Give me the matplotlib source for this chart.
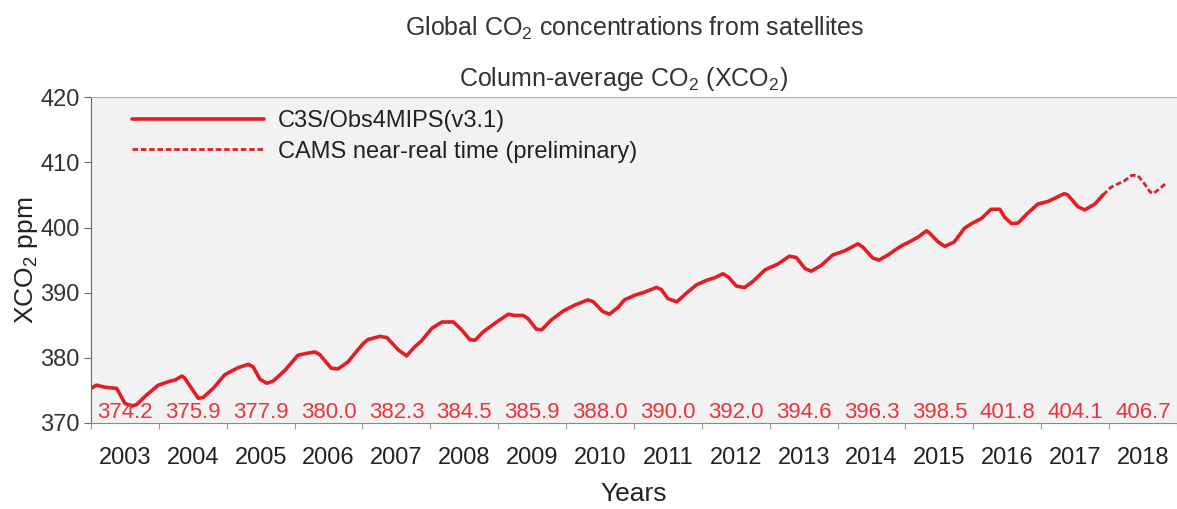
import matplotlib
matplotlib.use('Agg')
import matplotlib.pyplot as plt
from matplotlib.ticker import FixedLocator, NullFormatter, FixedFormatter

plt.rcParams['font.family'] = ['Liberation Sans', 'DejaVu Sans']
plt.rcParams['mathtext.fontset'] = 'custom'
plt.rcParams['mathtext.rm'] = 'Liberation Sans'

# C3S/Obs4MIPS monthly-ish points (decimal year, ppm)
t_sat = [2003.00, 2003.08, 2003.20, 2003.38, 2003.50, 2003.60, 2003.67, 2003.82, 2003.99,
         2004.16, 2004.24, 2004.34, 2004.38, 2004.58, 2004.65, 2004.80, 2004.97,
         2005.17, 2005.32, 2005.39, 2005.49, 2005.59, 2005.68, 2005.86,
         2006.05, 2006.18, 2006.30, 2006.37, 2006.54, 2006.64, 2006.79, 2006.89,
         2007.01, 2007.08, 2007.26, 2007.36, 2007.53, 2007.65, 2007.77, 2007.87,
         2008.02, 2008.17, 2008.34, 2008.46, 2008.58, 2008.66, 2008.78, 2008.95,
         2009.02, 2009.15, 2009.24, 2009.37, 2009.44, 2009.56, 2009.64, 2009.78, 2009.96,
         2010.13, 2010.32, 2010.40, 2010.54, 2010.64, 2010.77, 2010.86,
         2011.01, 2011.16, 2011.33, 2011.40, 2011.50, 2011.63, 2011.77, 2011.92,
         2012.07, 2012.19, 2012.31, 2012.39, 2012.51, 2012.63, 2012.75, 2012.93,
         2013.12, 2013.29, 2013.39, 2013.52, 2013.61, 2013.76, 2013.93,
         2014.10, 2014.30, 2014.37, 2014.52, 2014.61, 2014.76, 2014.84, 2014.96,
         2015.04, 2015.18, 2015.31, 2015.36, 2015.48, 2015.58, 2015.72, 2015.87, 2015.99,
         2016.12, 2016.26, 2016.39, 2016.46, 2016.56, 2016.66, 2016.80, 2016.95,
         2017.10, 2017.22, 2017.34, 2017.39, 2017.54, 2017.64, 2017.79, 2017.91]
xco2_sat = [375.3, 375.8, 375.5, 375.3, 373.0, 372.6, 372.8, 374.3, 375.8,
            376.4, 376.6, 377.2, 376.9, 373.8, 373.9, 375.3, 377.4,
            378.5, 379.0, 378.6, 376.7, 376.1, 376.4, 378.1,
            380.4, 380.7, 380.9, 380.5, 378.4, 378.3, 379.4, 380.7,
            382.2, 382.8, 383.3, 383.1, 381.2, 380.3, 381.7, 382.6,
            384.5, 385.5, 385.5, 384.3, 382.8, 382.7, 384.0, 385.3,
            385.8, 386.7, 386.5, 386.5, 386.0, 384.4, 384.3, 385.8, 387.2,
            388.1, 388.9, 388.6, 387.1, 386.7, 387.8, 388.9,
            389.6, 390.1, 390.8, 390.5, 389.1, 388.6, 389.9, 391.2,
            391.9, 392.3, 392.9, 392.4, 391.0, 390.8, 391.7, 393.5,
            394.4, 395.6, 395.4, 393.7, 393.3, 394.2, 395.8,
            396.4, 397.5, 397.0, 395.3, 395.0, 395.9, 396.5, 397.3,
            397.7, 398.5, 399.5, 399.1, 397.8, 397.1, 397.8, 399.9, 400.7,
            401.4, 402.8, 402.8, 401.6, 400.6, 400.7, 402.2, 403.6,
            404.0, 404.6, 405.2, 405.0, 403.2, 402.7, 403.6, 405.0]

# CAMS near-real time (preliminary)
t_nrt = [2017.91, 2018.03, 2018.23, 2018.33, 2018.42, 2018.50, 2018.60, 2018.65, 2018.75, 2018.85]
xco2_nrt = [405.0, 406.2, 407.2, 408.0, 408.0, 407.0, 405.5, 405.2, 406.0, 406.9]

years = list(range(2003, 2019))
annual_means = ['374.2', '375.9', '377.9', '380.0', '382.3', '384.5', '385.9', '388.0',
                '390.0', '392.0', '394.6', '396.3', '398.5', '401.8', '404.1', '406.7']

red = '#e41d25'
label_red = '#e8343d'

fig = plt.figure(figsize=(11.77, 5.09), dpi=100)
ax = fig.add_axes([0.0773, 0.169, 0.9227, 0.640])
ax.set_facecolor('#f2f2f2')

ax.plot(t_sat, xco2_sat, color=red, lw=2.6, solid_capstyle='round',
        label='C3S/Obs4MIPS(v3.1)')
ax.plot(t_nrt, xco2_nrt, color=red, lw=2.0, ls=(0, (2, 1)),
        label='CAMS near-real time (preliminary)')

for y, m in zip(years, annual_means):
    ax.text(y + 0.5, 371.6, m, color=label_red, fontsize=16,
            ha='center', va='center')

ax.set_xlim(2003, 2019)
ax.set_ylim(370, 420)

ax.xaxis.set_major_locator(FixedLocator([y for y in range(2003, 2020)]))
ax.xaxis.set_major_formatter(NullFormatter())
ax.xaxis.set_minor_locator(FixedLocator([y + 0.5 for y in years]))
ax.xaxis.set_minor_formatter(FixedFormatter([str(y) for y in years]))
ax.tick_params(axis='x', which='major', length=4, color='#999999', direction='out')
ax.tick_params(axis='x', which='minor', length=0, pad=17, labelsize=17, labelcolor='#222222')

ax.set_yticks([370, 380, 390, 400, 410, 420])
ax.tick_params(axis='y', length=5, color='#666666', direction='out', labelsize=17,
               labelcolor='#333333', pad=3)

ax.spines['top'].set_color('#b0b0b0')
ax.spines['right'].set_visible(False)
ax.spines['left'].set_color('#666666')
ax.spines['bottom'].set_color('#888888')

ax.set_ylabel('XCO$_\\mathregular{2}$ ppm', fontsize=19, color='#222222', labelpad=0)
ax.set_xlabel('Years', fontsize=19, color='#222222', labelpad=10)

leg = ax.legend(loc='upper left', frameon=False, fontsize=17, handlelength=5.6,
                handletextpad=0.6, labelspacing=0.35, bbox_to_anchor=(0.018, 1.025))
for txt in leg.get_texts():
    txt.set_color('#222222')

fig.text(0.539, 0.945, 'Global CO$_\\mathregular{2}$ concentrations from satellites',
         ha='center', va='center', fontsize=18, color='#333333')
fig.text(0.53, 0.845, 'Column-average CO$_\\mathregular{2}$ (XCO$_\\mathregular{2}$)',
         ha='center', va='center', fontsize=18, color='#333333')

fig.savefig('out.png', dpi=100)
